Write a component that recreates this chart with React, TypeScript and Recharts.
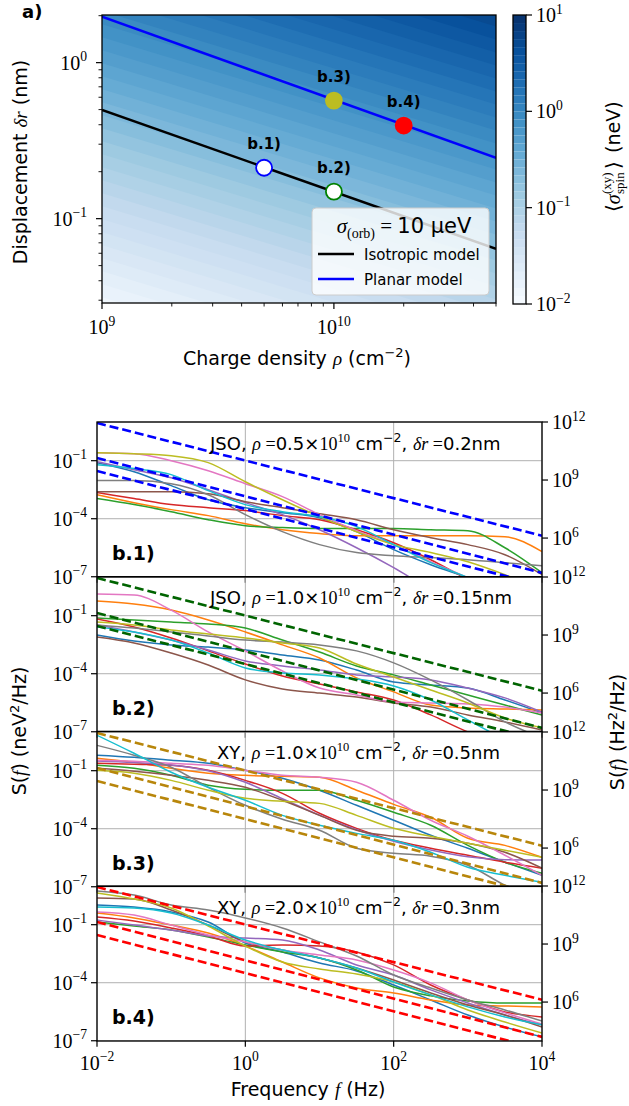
import React from "react";
import {
  ComposedChart,
  Line,
  Area,
  Scatter,
  XAxis,
  YAxis,
  CartesianGrid,
  ReferenceArea,
} from "recharts";

const SANS = "'DejaVu Sans', sans-serif";
const SERIF = "'Liberation Serif', 'DejaVu Serif', serif";

/* ---------- panel a) ---------- */
const rhoRange = [1e9, 5e10];
const isotropicDr = [0.497, 0.064];
const planarDr = [1.97, 0.245];

const pointTags = ["b.1)", "b.2)", "b.3)", "b.4)"];
const pointRho = [5e9, 1e10, 1e10, 2e10];
const pointDr = [0.212, 0.149, 0.571, 0.395];
const pointFill = ["#ffffff", "#ffffff", "#bcbd22", "#ff0000"];
const pointEdge = ["#0000ff", "#008000", "#bcbd22", "#ff0000"];

const rhoTicks = [1e9, 2e9, 3e9, 4e9, 5e9, 6e9, 7e9, 8e9, 9e9, 1e10, 2e10, 3e10, 4e10, 5e10];
const drTicks = [0.03, 0.04, 0.05, 0.06, 0.07, 0.08, 0.09, 0.1, 0.2, 0.3, 0.4, 0.5, 0.6, 0.7, 0.8, 0.9, 1, 2];
const cbTicks = [0.01, 0.1, 1, 10];

// colour bar levels, 12 per decade between 1e-2 and 1e1
const cbLevels = Array.from({ length: 37 }, (_, k) => 10 ** (-2 + k / 12));
// shading of the map: <sigma> = 10^a * (rho/1e9)^p * dr^q  (fitted to the picture)
const mapA = -0.33;
const mapP = 0.45;
const mapQ = 1.0;

/* ---------- panels b.1) .. b.4) ---------- */
const freqs = [0.01, 0.0316, 0.1, 0.316, 1, 3.16, 10, 31.6, 100, 316, 1000, 3162, 10000];
const fTicks = [0.01, 1, 100, 10000];
const leftTicks = [1e-7, 1e-4, 1e-1];
const rightTicks = [1e6, 1e9, 1e12];
const tab10 = ["#1f77b4", "#ff7f0e", "#2ca02c", "#d62728", "#9467bd", "#8c564b", "#e377c2", "#7f7f7f", "#bcbd22", "#17becf"];

// log10 S(f) in neV^2/Hz at freqs, one row per colour (tab10 order)
const b1Curves = [
  [-1.1, -1.57, -2.29, -3.02, -3.43, -3.69, -3.95, -4.67, -5.6, -6.38, -7.05, -7.77, -8.44],
  [-2.76, -3.17, -3.53, -3.84, -4.26, -4.57, -4.77, -4.88, -4.88, -4.88, -4.88, -4.93, -5.7],
  [-2.96, -3.27, -3.64, -4.05, -4.36, -4.46, -4.51, -4.51, -4.51, -4.57, -4.62, -5.5, -6.79],
  [-2.65, -2.96, -3.27, -3.43, -3.58, -3.84, -4.05, -4.57, -5.24, -6.12, -7.15, -8.18, -9.22],
  [-1.05, -1.47, -1.88, -2.5, -3.17, -3.79, -4.57, -5.5, -6.53, -7.67, -8.7, -9.7, -10.8],
  [-2.6, -2.6, -2.6, -2.71, -3.12, -3.43, -3.74, -4.05, -4.57, -4.98, -5.34, -5.86, -6.89],
  [-0.59, -0.64, -1.0, -1.52, -2.19, -2.86, -3.79, -4.62, -5.34, -6.22, -7.05, -7.93, -8.7],
  [-2.03, -2.03, -2.19, -2.76, -3.79, -4.67, -5.34, -5.75, -5.91, -6.01, -6.12, -6.27, -6.43],
  [-0.59, -0.64, -0.74, -1.1, -2.09, -3.02, -3.89, -4.67, -5.34, -5.75, -6.22, -6.89, -7.67],
  [-1.21, -1.41, -1.72, -2.55, -3.27, -3.64, -3.89, -4.41, -5.34, -6.27, -7.05, -7.93, -8.7],
];
const b2Curves = [
  [-2.0, -2.31, -2.51, -2.62, -2.77, -3.03, -3.29, -3.81, -4.43, -4.58, -4.74, -5.36, -6.03],
  [-0.24, -0.4, -0.71, -1.22, -1.84, -2.51, -3.19, -4.22, -4.94, -5.62, -5.77, -5.82, -5.87],
  [-1.12, -1.22, -1.33, -1.43, -1.64, -2.26, -2.88, -3.6, -4.06, -4.58, -5.1, -5.62, -6.13],
  [-1.17, -1.58, -2.15, -2.82, -3.5, -4.12, -4.53, -4.94, -5.36, -6.13, -7.01, -7.68, -8.46],
  [-1.48, -1.84, -2.26, -2.77, -3.34, -3.6, -3.81, -4.06, -4.17, -4.32, -4.74, -5.25, -5.98],
  [-2.1, -2.41, -2.93, -3.55, -4.32, -4.79, -5.0, -5.2, -5.51, -5.72, -6.13, -6.49, -6.91],
  [0.12, 0.07, -0.71, -1.84, -2.82, -3.86, -4.74, -5.1, -5.46, -5.51, -5.56, -5.72, -6.03],
  [-1.48, -1.64, -1.84, -2.05, -2.26, -2.36, -2.51, -2.82, -3.44, -4.32, -5.36, -6.49, -7.32],
  [-1.33, -1.48, -1.74, -1.95, -2.15, -2.41, -2.67, -3.5, -4.17, -4.84, -5.51, -6.29, -6.8],
  [-1.58, -1.84, -2.26, -2.93, -3.7, -3.96, -4.06, -4.27, -4.63, -5.36, -6.39, -7.42, -8.46],
];
const b3Curves = [
  [-0.2, -0.31, -0.46, -0.62, -0.98, -1.39, -2.01, -2.79, -3.56, -4.34, -5.01, -5.73, -6.41],
  [-0.36, -0.57, -0.88, -1.13, -1.24, -1.29, -1.34, -2.01, -2.74, -3.41, -4.49, -4.86, -5.48],
  [-0.72, -0.88, -1.24, -1.75, -1.96, -2.01, -2.01, -2.53, -3.15, -3.82, -4.86, -5.73, -6.3],
  [-0.62, -0.67, -0.72, -0.98, -1.5, -2.17, -3.2, -3.98, -4.6, -5.01, -5.37, -5.73, -6.04],
  [-0.5, -0.58, -0.7, -1.0, -1.6, -2.45, -3.3, -4.05, -4.65, -5.1, -5.45, -5.6, -5.62],
  [-0.88, -1.03, -1.24, -1.5, -1.86, -2.53, -3.31, -4.08, -4.39, -4.49, -4.75, -5.22, -6.04],
  [-0.46, -0.51, -0.62, -0.72, -0.98, -1.24, -1.34, -1.6, -2.53, -3.56, -4.39, -5.37, -6.41],
  [0.31, -0.2, -0.82, -1.86, -2.79, -3.51, -4.08, -5.01, -5.27, -5.42, -5.89, -6.92, -7.7],
  [-0.98, -1.13, -1.5, -2.01, -2.43, -2.58, -2.69, -3.31, -3.98, -4.39, -4.75, -5.11, -5.48],
  [0.83, -0.1, -1.08, -1.86, -2.53, -3.31, -3.82, -4.24, -4.6, -5.22, -5.99, -6.41, -6.77],
];
const b4Curves = [
  [0.02, -0.09, -0.34, -0.86, -1.95, -2.41, -2.98, -3.39, -4.12, -4.89, -5.67, -6.29, -6.8],
  [-0.4, -0.65, -1.02, -1.43, -2.1, -2.93, -3.75, -4.27, -4.53, -4.89, -5.15, -5.2, -5.25],
  [-0.86, -1.07, -1.27, -1.64, -2.05, -2.41, -2.72, -3.34, -4.22, -4.68, -4.94, -5.05, -5.05],
  [-0.6, -0.81, -1.17, -1.58, -2.1, -2.05, -2.1, -2.41, -3.08, -4.12, -4.89, -5.51, -5.77],
  [-0.76, -1.02, -1.27, -1.58, -1.69, -1.79, -2.31, -3.08, -3.6, -4.37, -5.05, -5.67, -6.18],
  [0.38, 0.33, -0.24, -1.02, -1.89, -2.31, -2.72, -3.24, -3.86, -4.53, -5.15, -5.67, -6.29],
  [-0.34, -0.5, -1.02, -1.53, -1.89, -2.31, -2.57, -2.82, -3.34, -4.01, -4.89, -5.56, -6.13],
  [0.74, 0.53, 0.02, -0.24, -0.65, -1.17, -1.89, -2.62, -3.6, -4.27, -4.89, -5.41, -5.98],
  [0.64, 0.33, -0.14, -1.07, -2.1, -2.93, -3.29, -3.55, -3.96, -4.63, -5.41, -6.03, -6.6],
  [-0.09, -0.14, -0.4, -1.02, -1.79, -2.31, -2.72, -3.24, -3.96, -4.63, -5.25, -5.77, -6.18],
];
// dashed reference lines: log10 S(f) in Hz^2/Hz at f = 1e-2 and f = 1e4
const refAtLow = [11.95, 10.14, 9.47];
const refAtHigh = [6.12, 4.2, 3.55];

const panelCurves = [b1Curves, b2Curves, b3Curves, b4Curves];
const panelModel = ["JSO", "JSO", "XY", "XY"];
const panelRho = ["0.5", "1.0", "1.0", "2.0"];
const panelDr = ["0.2", "0.15", "0.5", "0.3"];
const panelTag = ["b.1)", "b.2)", "b.3)", "b.4)"];
const panelDash = ["#0000ff", "#006400", "#b8860b", "#ff0000"];

/* ---------- helpers ---------- */
const bluesStops = ["#f7fbff", "#deebf7", "#c6dbef", "#9ecae1", "#6baed6", "#4292c6", "#2171b5", "#08519c", "#08306b"];
function blues(t: number) {
  const s = Math.max(0, Math.min(1, t)) * 8;
  const i = Math.min(7, Math.floor(s));
  const f = s - i;
  const rgb = (h: string) => [1, 3, 5].map((j) => parseInt(h.slice(j, j + 2), 16));
  const a = rgb(bluesStops[i]);
  const b = rgb(bluesStops[i + 1]);
  return `rgb(${a.map((v, j) => Math.round(v + (b[j] - v) * f)).join(",")})`;
}
const nBands = cbLevels.length - 1;
const bandColor = (k: number) => blues((k + 0.5) / nBands);

const isDecade = (v: number) => {
  const l = Math.log10(v);
  return Math.abs(l - Math.round(l)) < 1e-6;
};
const expText = (v: number) => {
  const e = Math.round(Math.log10(v));
  return e < 0 ? `\u2212${-e}` : `${e}`;
};

function Pow10({ x, y, v, anchor, size }: any) {
  return (
    <text x={x} y={y} textAnchor={anchor} fontFamily={SERIF} fontSize={size} fill="#000">
      10
      <tspan dy={-size * 0.42} fontSize={size * 0.68}>
        {expText(v)}
      </tspan>
    </text>
  );
}

const bottomTick = (label: boolean, gap: number) => (p: any) => {
  const major = isDecade(p.payload.value);
  const len = major ? 6 : 3.5;
  return (
    <g>
      <line x1={p.x} x2={p.x} y1={p.y} y2={p.y + len} stroke="#000" strokeWidth={major ? 1.2 : 0.9} />
      {label && major && <Pow10 x={p.x} y={p.y + gap} v={p.payload.value} anchor="middle" size={20} />}
    </g>
  );
};
const leftTick = (gap: number) => (p: any) => {
  const major = isDecade(p.payload.value);
  const len = major ? 6 : 3.5;
  return (
    <g>
      <line x1={p.x - len} x2={p.x} y1={p.y} y2={p.y} stroke="#000" strokeWidth={major ? 1.2 : 0.9} />
      {major && <Pow10 x={p.x - gap} y={p.y + 7} v={p.payload.value} anchor="end" size={20} />}
    </g>
  );
};
const rightTick = (p: any) => (
  <g>
    <line x1={p.x} x2={p.x + 6} y1={p.y} y2={p.y} stroke="#000" strokeWidth={1.2} />
    <Pow10 x={p.x + 10} y={p.y + 7} v={p.payload.value} anchor="start" size={20} />
  </g>
);

/* ---------- tables ---------- */
const mapData = rhoRange.map((rho, i) => {
  const row: Record<string, any> = { rho, iso: isotropicDr[i], planar: planarDr[i] };
  for (let k = 0; k < nBands; k++) {
    const dr = (cbLevels[k] / (10 ** mapA * (rho / 1e9) ** mapP)) ** (1 / mapQ);
    row[`band${k}`] = [dr, 1e4];
  }
  return row;
});
const pointData = pointTags.map((tag, i) => ({ tag, i, rho: pointRho[i], dr: pointDr[i] }));
const cbData = [{ x: 0, v: 1 }, { x: 1, v: 1 }];

function panelRows(curves: number[][]) {
  return freqs.map((f, j) => {
    const row: Record<string, number | undefined> = { f };
    curves.forEach((c, i) => {
      row[`c${i}`] = 10 ** c[j];
    });
    refAtLow.forEach((lo, i) => {
      row[`d${i}`] = j === 0 ? 10 ** lo : j === freqs.length - 1 ? 10 ** refAtHigh[i] : undefined;
    });
    return row;
  });
}

const PANEL_TOP = 422;
const PANEL_H = 154.75;
const PLOT_L = 97;
const PLOT_R = 542;

function Marker(p: any) {
  const i = p.payload.i;
  return (
    <g>
      <circle cx={p.cx} cy={p.cy} r={8} fill={pointFill[i]} stroke={pointEdge[i]} strokeWidth={1.8} />
      <text x={p.cx} y={p.cy - 19} textAnchor="middle" fontFamily={SANS} fontWeight="bold" fontSize={15}>
        {p.payload.tag}
      </text>
    </g>
  );
}

function NoisePanel({ idx }: { idx: number }) {
  const last = idx === 3;
  const top = PANEL_TOP + idx * PANEL_H;
  const xh = last ? 60 : 12;
  return (
    <div style={{ position: "absolute", left: 0, top: top - 12 }}>
      <ComposedChart width={629} height={12 + PANEL_H + xh} data={panelRows(panelCurves[idx])} margin={{ top: 12, right: 0, bottom: 0, left: 0 }}>
        <CartesianGrid yAxisId="L" stroke="#b0b0b0" strokeWidth={1} />
        <XAxis
          dataKey="f"
          type="number"
          scale="log"
          domain={[0.01, 10000]}
          allowDataOverflow
          ticks={fTicks}
          interval={0}
          height={xh}
          tickSize={0}
          tickMargin={0}
          axisLine={false}
          tickLine={false}
          tick={bottomTick(last, 29)}
        />
        <YAxis
          yAxisId="L"
          type="number"
          scale="log"
          domain={[1e-7, 10]}
          allowDataOverflow
          ticks={leftTicks}
          interval={0}
          width={PLOT_L}
          tickSize={0}
          tickMargin={0}
          axisLine={false}
          tickLine={false}
          tick={leftTick(10)}
        />
        <YAxis
          yAxisId="R"
          orientation="right"
          type="number"
          scale="log"
          domain={[1e4, 1e12]}
          allowDataOverflow
          ticks={rightTicks}
          interval={0}
          width={629 - PLOT_R}
          tickSize={0}
          tickMargin={0}
          axisLine={false}
          tickLine={false}
          tick={rightTick}
        />
        {tab10.map((c, i) => (
          <Line key={`c${i}`} yAxisId="L" dataKey={`c${i}`} type="monotone" stroke={c} strokeWidth={1.5} dot={false} isAnimationActive={false} />
        ))}
        {refAtLow.map((_, i) => (
          <Line
            key={`d${i}`}
            yAxisId="R"
            dataKey={`d${i}`}
            type="linear"
            connectNulls
            stroke={panelDash[idx]}
            strokeWidth={2.6}
            strokeDasharray="9 4"
            dot={false}
            isAnimationActive={false}
          />
        ))}
      </ComposedChart>
    </div>
  );
}

export default function App() {
  return (
    <div style={{ position: "absolute", left: 0, top: 0, width: 629, height: 1106, background: "#fff" }}>
      <style>{`svg.recharts-surface{overflow:visible}`}</style>

      {/* map a) */}
      <div style={{ position: "absolute", left: 0, top: 0 }}>
        <ComposedChart width={500} height={343} data={mapData} margin={{ top: 15, right: 4, bottom: 0, left: 0 }}>
          <XAxis
            dataKey="rho"
            type="number"
            scale="log"
            domain={[1e9, 5e10]}
            allowDataOverflow
            ticks={rhoTicks}
            interval={0}
            height={40}
            tickSize={0}
            tickMargin={0}
            axisLine={false}
            tickLine={false}
            tick={bottomTick(true, 31)}
          />
          <YAxis
            type="number"
            scale="log"
            domain={[0.0288, 2.02]}
            allowDataOverflow
            ticks={drTicks}
            interval={0}
            width={102}
            tickSize={0}
            tickMargin={0}
            axisLine={false}
            tickLine={false}
            tick={leftTick(15)}
          />
          {cbLevels.slice(0, -1).map((_, k) => (
            <Area
              key={`band${k}`}
              dataKey={`band${k}`}
              type="linear"
              stroke="none"
              fill={bandColor(k)}
              fillOpacity={1}
              isAnimationActive={false}
            />
          ))}
          <Line dataKey="iso" type="linear" stroke="#000000" strokeWidth={2.5} dot={false} isAnimationActive={false} />
          <Line dataKey="planar" type="linear" stroke="#0000ff" strokeWidth={2.5} dot={false} isAnimationActive={false} />
          <Scatter data={pointData} dataKey="dr" shape={Marker} isAnimationActive={false} />
        </ComposedChart>
      </div>

      {/* colour bar */}
      <div style={{ position: "absolute", left: 0, top: 0 }}>
        <ComposedChart width={629} height={343} data={cbData} margin={{ top: 15, right: 0, bottom: 39, left: 513 }}>
          <XAxis dataKey="x" type="number" domain={[0, 1]} hide />
          <YAxis
            yAxisId="cb"
            orientation="right"
            type="number"
            scale="log"
            domain={[0.01, 10]}
            allowDataOverflow
            ticks={cbTicks}
            interval={0}
            width={103}
            tickSize={0}
            tickMargin={0}
            axisLine={false}
            tickLine={false}
            tick={rightTick}
          />
          {cbLevels.slice(0, -1).map((lev, k) => (
            <ReferenceArea key={`cb${k}`} yAxisId="cb" x1={0} x2={1} y1={lev} y2={cbLevels[k + 1]} fill={bandColor(k)} fillOpacity={1} stroke="none" />
          ))}
          <Line yAxisId="cb" dataKey="v" stroke="none" dot={false} isAnimationActive={false} />
        </ComposedChart>
      </div>

      {[0, 1, 2, 3].map((i) => (
        <NoisePanel key={i} idx={i} />
      ))}

      {/* frames, legend and titles */}
      <svg width={629} height={1106} style={{ position: "absolute", left: 0, top: 0, pointerEvents: "none" }}>
        <rect x={102} y={15} width={394} height={288} fill="none" stroke="#000" strokeWidth={1.3} />
        <rect x={513} y={15} width={13} height={289} fill="none" stroke="#000" strokeWidth={1.3} />
        {[0, 1, 2, 3].map((i) => (
          <rect key={i} x={PLOT_L} y={PANEL_TOP + i * PANEL_H} width={PLOT_R - PLOT_L} height={PANEL_H} fill="none" stroke="#000" strokeWidth={1.3} />
        ))}

        <text x={22} y={18} fontFamily={SANS} fontWeight="bold" fontSize={18}>
          a)
        </text>

        <g>
          <rect x={312} y={208} width={177} height={87} rx={4} fill="#ffffff" fillOpacity={0.8} stroke="#cccccc" />
          <text x={404} y={233} textAnchor="middle" fontSize={21}>
            <tspan fontFamily={SERIF} fontStyle="italic">σ</tspan>
            <tspan fontFamily={SERIF} fontSize={14} dy={5}>(orb)</tspan>
            <tspan fontFamily={SERIF} dy={-5}>{" = "}</tspan>
            <tspan fontFamily={SANS}>10 μeV</tspan>
          </text>
          <line x1={318} x2={354} y1={254} y2={254} stroke="#000" strokeWidth={2.5} />
          <text x={364} y={259.5} fontFamily={SANS} fontSize={15}>
            Isotropic model
          </text>
          <line x1={318} x2={354} y1={279} y2={279} stroke="#0000ff" strokeWidth={2.5} />
          <text x={364} y={284.5} fontFamily={SANS} fontSize={15}>
            Planar model
          </text>
        </g>

        <g transform="translate(27,162) rotate(-90)">
          <text textAnchor="middle" fontFamily={SANS} fontSize={19}>
            <tspan>{"Displacement "}</tspan>
            <tspan fontFamily={SERIF} fontStyle="italic">δr</tspan>
            <tspan>{" (nm)"}</tspan>
          </text>
        </g>
        <text x={297} y={365} textAnchor="middle" fontFamily={SANS} fontSize={19}>
          <tspan>{"Charge density "}</tspan>
          <tspan fontFamily={SERIF} fontStyle="italic">ρ</tspan>
          <tspan>{" (cm"}</tspan>
          <tspan dy={-8} fontSize={13}>−2</tspan>
          <tspan dy={8}>)</tspan>
        </text>

        <g transform="translate(620,148) rotate(-90)">
          <text x={-64} y={0} fontFamily={SERIF} fontSize={20}>
            ⟨<tspan fontStyle="italic">σ</tspan>
          </text>
          <text x={-46} y={-9} fontFamily={SERIF} fontSize={13}>
            (xy)
          </text>
          <text x={-46} y={4} fontFamily={SERIF} fontSize={13}>
            spin
          </text>
          <text x={-21} y={0} fontFamily={SERIF} fontSize={20}>
            ⟩
          </text>
          <text x={-5} y={0} fontFamily={SANS} fontSize={19}>
            (neV)
          </text>
        </g>

        {[0, 1, 2, 3].map((i) => {
          const t = PANEL_TOP + i * PANEL_H;
          return (
            <g key={`ann${i}`}>
              <text x={panelModel[i] === "JSO" ? 210 : 217} y={t + 27.5} fontFamily={SANS} fontSize={18}>
                <tspan>{`${panelModel[i]}, `}</tspan>
                <tspan fontFamily={SERIF} fontStyle="italic">ρ</tspan>
                <tspan fontFamily={SERIF}>{" ="}</tspan>
                <tspan>{`${panelRho[i]}×`}</tspan>
                <tspan fontFamily={SERIF}>10</tspan>
                <tspan fontFamily={SERIF} dy={-8} fontSize={12.5}>10</tspan>
                <tspan dy={8}>{" cm"}</tspan>
                <tspan dy={-8} fontSize={12.5}>−2</tspan>
                <tspan dy={8}>{", "}</tspan>
                <tspan fontFamily={SERIF} fontStyle="italic">δr</tspan>
                <tspan fontFamily={SERIF}>{" ="}</tspan>
                <tspan>{`${panelDr[i]}nm`}</tspan>
              </text>
              <text x={112} y={t + 138} fontFamily={SANS} fontWeight="bold" fontSize={19}>
                {panelTag[i]}
              </text>
            </g>
          );
        })}

        <g transform="translate(26,731) rotate(-90)">
          <text textAnchor="middle" fontFamily={SANS} fontSize={19}>
            <tspan>S(</tspan>
            <tspan fontFamily={SERIF} fontStyle="italic">f</tspan>
            <tspan>{") (neV"}</tspan>
            <tspan dy={-7} fontSize={13}>2</tspan>
            <tspan dy={7}>/Hz)</tspan>
          </text>
        </g>
        <g transform="translate(624,732) rotate(-90)">
          <text textAnchor="middle" fontFamily={SANS} fontSize={19}>
            <tspan>S(</tspan>
            <tspan fontFamily={SERIF} fontStyle="italic">f</tspan>
            <tspan>{") (Hz"}</tspan>
            <tspan dy={-7} fontSize={13}>2</tspan>
            <tspan dy={7}>/Hz)</tspan>
          </text>
        </g>
        <text x={308} y={1096} textAnchor="middle" fontFamily={SANS} fontSize={19}>
          <tspan>{"Frequency "}</tspan>
          <tspan fontFamily={SERIF} fontStyle="italic">f</tspan>
          <tspan>{" (Hz)"}</tspan>
        </text>
      </svg>
    </div>
  );
}
